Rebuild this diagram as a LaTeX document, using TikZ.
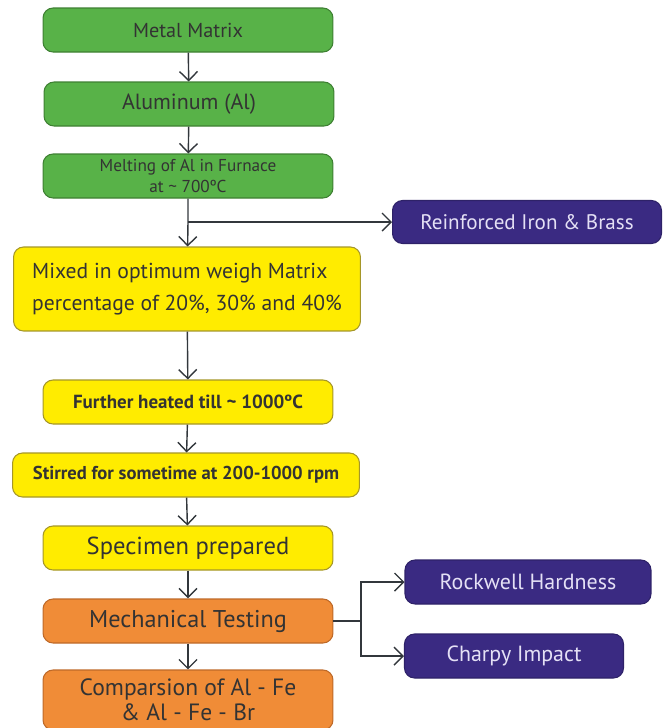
\documentclass[tikz,border=0pt]{standalone}
\usepackage{fontspec}
\setmainfont{PT Sans}
\usetikzlibrary{arrows.meta}

\definecolor{matrixgreen}{RGB}{88, 178, 72}
\definecolor{matrixgreenline}{RGB}{62, 128, 50}
\definecolor{mixyellow}{RGB}{255, 236, 0}
\definecolor{mixyellowline}{RGB}{165, 150, 40}
\definecolor{testorange}{RGB}{240, 140, 55}
\definecolor{testorangeline}{RGB}{190, 105, 40}
\definecolor{reinfpurple}{RGB}{58, 42, 130}
\definecolor{reinftext}{RGB}{228, 224, 245}
\definecolor{flowline}{RGB}{50, 55, 60}

\begin{document}
\begin{tikzpicture}[x=0.02cm, y=-0.02cm,
    box/.style={rounded corners=0.2cm, minimum height=0.88cm, minimum width=5.8cm,
      inner sep=2pt, align=center, text=black!80, line width=0.6pt},
    greenbox/.style={box, fill=matrixgreen, draw=matrixgreenline},
    yellowbox/.style={box, fill=mixyellow, draw=mixyellowline},
    orangebox/.style={box, fill=testorange, draw=testorangeline},
    purplebox/.style={box, fill=reinfpurple, draw=reinfpurple!80!black, text=reinftext,
      font=\fontsize{12.5}{14}\selectfont},
    flow/.style={draw=flowline, line width=0.8pt, -{Straight Barb[length=1.8mm, width=3.6mm]}}]
    \useasboundingbox (0,0) rectangle (664,728);

    % Matrix preparation
    \node[greenbox, font=\fontsize{11.5}{13}\selectfont] (metal) at (188,30) {Metal Matrix};
    \node[greenbox, font=\fontsize{12.5}{14}\selectfont] (alum) at (189,104) {Aluminum (Al)};
    \node[greenbox, font=\fontsize{9.8}{12}\selectfont] (melt) at (188,176)
      {Melting of Al in Furnace\\at \textasciitilde{} 700ºC};

    % Reinforcement
    \node[purplebox, minimum width=5.38cm, minimum height=0.86cm,
      font=\fontsize{12}{14}\selectfont] (reinf) at (527,222) {Reinforced Iron \& Brass};

    % Stir casting
    \node[yellowbox, minimum width=6.94cm, minimum height=1.68cm, align=left,
      font=\fontsize{12.3}{18.5}\selectfont] (mixed) at (187,289)
      {Mixed in optimum weigh Matrix\\percentage of 20\%, 30\% and 40\%};
    \node[yellowbox, font=\bfseries\fontsize{10.8}{12}\selectfont] (heat) at (188,402)
      {Further heated till \textasciitilde{} 1000ºC};
    \node[yellowbox, minimum width=6.94cm, font=\bfseries\fontsize{10.6}{12}\selectfont] (stir) at (186,475)
      {Stirred for sometime at 200-1000 rpm};
    \node[yellowbox, font=\fontsize{14}{16}\selectfont] (spec) at (188,548) {Specimen prepared};

    % Testing
    \node[orangebox, font=\fontsize{13.8}{16}\selectfont] (mech) at (188,621) {Mechanical Testing};
    \node[orangebox, minimum height=1.2cm, font=\fontsize{13.4}{14}\selectfont] (comp) at (188,700)
      {Comparsion of Al - Fe\\\& Al - Fe - Br};
    \node[purplebox, minimum width=4.92cm] (rock) at (528,582) {Rockwell Hardness};
    \node[purplebox, minimum width=4.38cm] (charpy) at (514,656) {Charpy Impact};

    % Connectors
    \coordinate (split) at (188,222);
    \coordinate (fork) at (361,621);
    \draw[flow] (metal) -- (alum);
    \draw[flow] (alum) -- (melt);
    \draw[flow] (melt) -- (split) -- (mixed);
    \draw[flow] (split) -- (reinf);
    \draw[flow] (mixed) -- (heat);
    \draw[flow] (heat) -- (stir);
    \draw[flow] (stir) -- (spec);
    \draw[flow] (spec) -- (mech);
    \draw[flow] (mech) -- (comp);
    \draw[draw=flowline, line width=0.8pt] (mech) -- (fork);
    \draw[flow] (fork) |- (rock);
    \draw[flow] (fork) |- (charpy);
  \end{tikzpicture}
\end{document}
